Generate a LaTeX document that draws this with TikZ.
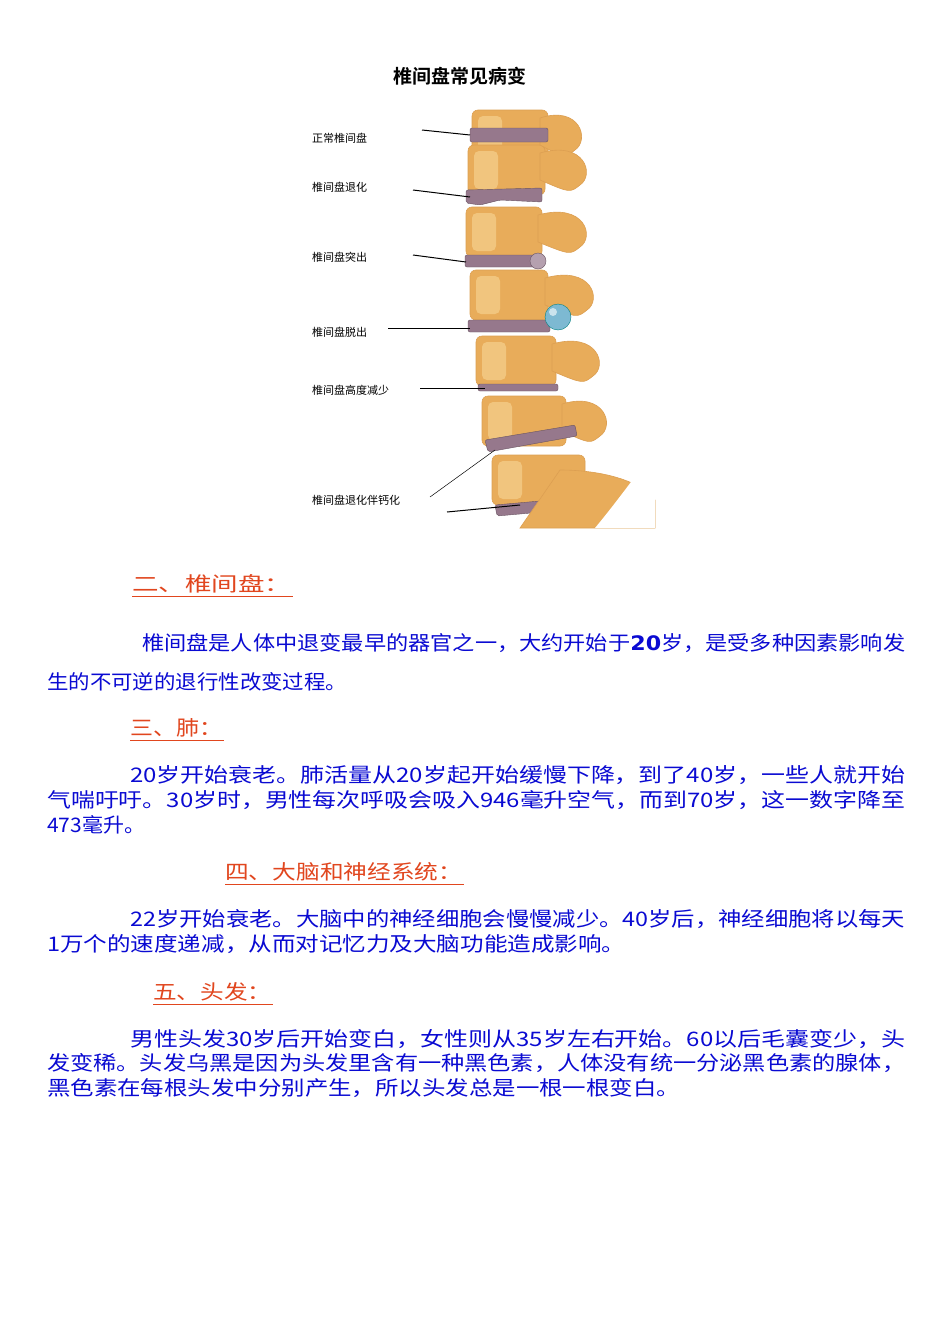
\documentclass[tikz,border=0pt]{standalone}
\usepackage{fontspec}
\newfontfamily\cjk{Noto Sans CJK SC}
\newfontfamily\cjkb{Noto Sans CJK SC Bold}
\definecolor{txtblue}{RGB}{10,10,210}
\definecolor{headred}{RGB}{225,70,30}
\definecolor{bone}{RGB}{232,172,90}
\definecolor{bonelight}{RGB}{248,215,150}
\definecolor{disc}{RGB}{150,120,140}
\newcommand{\myline}[5]{\node[anchor=base west,inner sep=0,text=txtblue] (#1) at (#2,#3+8) {\resizebox{#4pt}{17pt}{\cjk #5}};}
\newcommand{\myhead}[5]{\node[anchor=base west,inner sep=0,text=headred] (#1) at (#2,#3+8) {\resizebox{#4pt}{17pt}{\cjk #5}};
\draw[headred,line width=0.8pt] (#1.west|-0,#3+13) -- ++(#4+2,0);}
\newcommand{\lab}[4]{\node[anchor=west,inner sep=0,font=\cjk\fontsize{11}{12}\selectfont] (#1) at (#2,#3) {#4};}
\begin{document}
\begin{tikzpicture}[x=1pt,y=-1pt,
 vert/.style={fill=bone,draw=bone!70!brown,rounded corners=6pt,line width=0.6pt},
 dsc/.style={fill=disc,draw=disc!70!black,line width=0.4pt,rounded corners=2pt},
 proc/.style={fill=bone,draw=bone!70!brown,line width=0.6pt},
 ptr/.style={line width=1pt,black}]
\useasboundingbox[fill=white] (0,0) rectangle (950,1344);
\node[font=\cjkb\fontsize{19}{20}\selectfont] (title) at (460,76) {椎间盘常见病变};
% spine
\foreach \yy/\xa/\xb in {110/472/548,145/468/545,207/466/542,270/470/548,336/476/556,396/482/566,455/492/585}{
  \draw[vert] (\xa,\yy) rectangle (\xb,\yy+50);
  \fill[bonelight,opacity=.6,rounded corners=5pt] (\xa+6,\yy+6) rectangle (\xa+30,\yy+44);
}
\foreach \yy/\xa/\xb in {110/540/580,145/540/585,207/538/585,270/545/592,336/552/598,396/562/605}{
  \draw[proc] (\xa,\yy+8) .. controls (\xb,\yy-5) and (\xb+10,\yy+30) .. (\xb-5,\yy+40) .. controls (\xb-15,\yy+48) .. (\xa,\yy+35) -- cycle;
}
\draw[dsc] (470,128) rectangle (548,142);
\draw[dsc] (466,190) -- (542,188) -- (542,202) -- (500,200) -- (480,205) -- (466,203) -- cycle;
\draw[dsc] (465,255) rectangle (543,267);
\draw[dsc,fill=disc!70] (538,261) circle (8);
\draw[dsc] (468,320) rectangle (550,332);
\draw[fill=cyan!40!teal!60,draw=teal] (558,317) circle (13);
\fill[white,opacity=.6] (553,312) circle (4);
\draw[dsc] (478,384) rectangle (558,391);
\draw[dsc] (485,440) -- (575,425) -- (577,436) -- (488,452) -- cycle;
\draw[dsc] (495,505) -- (585,497) -- (588,508) -- (497,516) -- cycle;
\draw[proc] (560,470) .. controls (600,470) and (640,480) .. (655,500) -- (655,528) -- (520,528) -- cycle;
\fill[white] (595,528) -- (655,528) -- (655,470) -- (640,470) .. controls (625,490) and (610,510) .. cycle;
% labels
\lab{l1}{312}{138}{正常椎间盘}
\lab{l2}{312}{187}{椎间盘退化}
\lab{l3}{312}{257}{椎间盘突出}
\lab{l4}{312}{332}{椎间盘脱出}
\lab{l5}{312}{390}{椎间盘高度减少}
\lab{l6}{312}{500}{椎间盘退化伴钙化}
\coordinate (p1) at (470,135); \coordinate (p2) at (470,197); \coordinate (p3) at (466,262);
\coordinate (p4) at (470,328); \coordinate (p5) at (485,388); \coordinate (p6) at (495,450); \coordinate (p7) at (520,505);
\draw[ptr] (422,130) -- (p1); \draw[ptr] (413,190) -- (p2); \draw[ptr] (413,255) -- (p3);
\draw[ptr] (388,328) -- (p4); \draw[ptr] (420,388) -- (p5);
\draw[line width=0.5pt] (430,497) -- (p6); \draw[ptr] (447,512) -- (p7);
% text
\myhead{h1}{132}{583}{159}{二、椎间盘：}
\node[anchor=base west,inner sep=0,text=txtblue] (t1) at (142,650) {\resizebox{763pt}{17pt}{\cjk 椎间盘是人体中退变最早的器官之一，大约开始于{\bfseries\fontspec{DejaVu Sans}20}岁，是受多种因素影响发}};
\myline{t2}{47}{681}{300}{生的不可逆的退行性改变过程。}
\myhead{h2}{130}{727}{92}{三、肺：}
\myline{t3}{130}{774}{775}{20岁开始衰老。肺活量从20岁起开始缓慢下降，到了40岁，一些人就开始}
\myline{t4}{47}{799}{858}{气喘吁吁。30岁时，男性每次呼吸会吸入946毫升空气，而到70岁，这一数字降至}
\myline{t5}{47}{824}{98}{473毫升。}
\myhead{h3}{225}{871}{237}{四、大脑和神经系统：}
\myline{t6}{130}{918}{775}{22岁开始衰老。大脑中的神经细胞会慢慢减少。40岁后，神经细胞将以每天}
\myline{t7}{47}{943}{578}{1万个的速度递减，从而对记忆力及大脑功能造成影响。}
\myhead{h4}{153}{991}{118}{五、头发：}
\myline{t8}{130}{1038}{775}{男性头发30岁后开始变白，女性则从35岁左右开始。60以后毛囊变少，头}
\myline{t9}{47}{1062}{858}{发变稀。头发乌黑是因为头发里含有一种黑色素，人体没有统一分泌黑色素的腺体，}
\myline{t10}{47}{1087}{633}{黑色素在每根头发中分别产生，所以头发总是一根一根变白。}
\end{tikzpicture}
\end{document}
